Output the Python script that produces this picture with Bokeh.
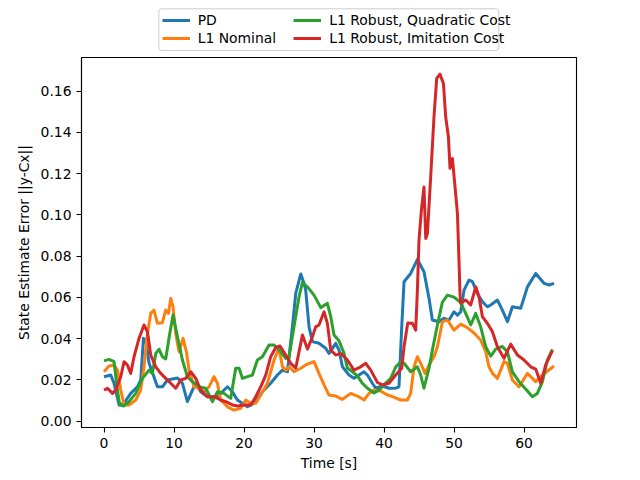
from bokeh.plotting import figure
from bokeh.layouts import column
from bokeh.models import Range1d, FixedTicker, PrintfTickFormatter, Legend, LegendItem, BoxAnnotation
from bokeh.embed import file_html
from bokeh.resources import INLINE

# ---- data ----
t_pd = [0.0, 0.96, 1.43, 2.14, 2.86, 3.81, 4.77, 5.24, 5.63, 5.96, 6.43, 7.63, 8.34, 9.06, 10.49, 11.2,
        11.91, 12.63, 13.1, 13.81, 14.77, 16.2, 17.63, 18.34, 19.06, 20.49, 21.43, 22.63, 23.81, 24.77,
        25.49, 26.2, 26.91, 27.39, 28.1, 28.57, 28.81, 29.29, 29.77, 30.71, 31.67, 32.14, 33.1, 33.57,
        34.06, 35.0, 35.71, 36.43, 37.14, 37.63, 38.34, 38.81, 39.77, 40.71, 41.67, 42.14, 42.53, 42.86,
        43.81, 44.77, 45.71, 46.43, 46.91, 47.86, 48.57, 49.29, 50.0, 50.49, 50.96, 51.43, 52.14, 52.63,
        53.34, 54.06, 54.77, 55.24, 56.2, 56.91, 57.63, 58.34, 59.53, 60.49, 61.67, 62.86, 63.57, 64.29]
v_pd = [0.0215, 0.0223, 0.0183, 0.0078, 0.0087, 0.0134, 0.0166, 0.0199, 0.0401, 0.0393, 0.0281, 0.0166,
        0.0166, 0.0199, 0.0209, 0.0183, 0.0094, 0.0150, 0.0183, 0.0142, 0.0118, 0.0118, 0.0166, 0.0142,
        0.0102, 0.0069, 0.0086, 0.0142, 0.0183, 0.0223, 0.0247, 0.0239, 0.0457, 0.0619, 0.0713, 0.0668,
        0.0635, 0.0457, 0.0385, 0.0377, 0.0353, 0.0328, 0.0377, 0.0344, 0.0263, 0.0223, 0.0207, 0.0223,
        0.0239, 0.0223, 0.0183, 0.0159, 0.0170, 0.0159, 0.0159, 0.0166, 0.0457, 0.0676, 0.0716, 0.0784,
        0.0724, 0.0595, 0.0490, 0.0482, 0.0498, 0.0490, 0.0530, 0.0514, 0.0530, 0.0635, 0.0684, 0.0676,
        0.0619, 0.0579, 0.0554, 0.0563, 0.0587, 0.0538, 0.0482, 0.0554, 0.0547, 0.0651, 0.0716, 0.0668,
        0.0660, 0.0668]

t_nom = [0.0, 0.71, 1.43, 1.91, 2.39, 2.86, 3.57, 4.53, 5.24, 5.71, 6.2, 6.67, 7.14, 7.63, 8.34, 8.81,
         9.2, 9.53, 9.86, 10.24, 10.71, 11.29, 11.77, 12.14, 12.86, 13.57, 14.29, 15.0, 15.71, 16.2,
         16.67, 17.63, 18.57, 19.53, 20.24, 20.96, 21.67, 22.39, 23.34, 24.29, 25.0, 25.49, 25.96, 26.43,
         27.14, 28.1, 28.81, 30.0, 30.71, 31.43, 32.14, 33.1, 34.06, 35.24, 36.2, 37.14, 37.86, 38.57,
         39.53, 40.49, 41.2, 42.39, 43.34, 43.81, 44.29, 44.77, 45.24, 45.86, 46.43, 47.14, 47.63, 48.34,
         49.06, 50.0, 50.96, 51.91, 52.86, 53.81, 54.53, 55.0, 55.49, 56.2, 57.14, 57.63, 58.34, 59.29,
         60.49, 61.67, 62.63, 64.29]
v_nom = [0.0239, 0.0267, 0.0272, 0.0247, 0.0150, 0.0078, 0.0078, 0.0102, 0.0150, 0.0263, 0.0425, 0.0522,
         0.0538, 0.0474, 0.0477, 0.0538, 0.0522, 0.0595, 0.0554, 0.0425, 0.0336, 0.0401, 0.0336, 0.0247,
         0.0166, 0.0159, 0.0142, 0.0166, 0.0215, 0.0183, 0.0102, 0.0069, 0.0053, 0.0062, 0.0102, 0.0086,
         0.0086, 0.0126, 0.0183, 0.0296, 0.0353, 0.0263, 0.0247, 0.0263, 0.0239, 0.0256, 0.0272, 0.0288,
         0.0231, 0.0175, 0.0126, 0.0121, 0.0105, 0.0134, 0.0121, 0.0102, 0.0134, 0.0150, 0.0145, 0.0126,
         0.0118, 0.0102, 0.0102, 0.0134, 0.0263, 0.0312, 0.0280, 0.0231, 0.0272, 0.0312, 0.0360, 0.0482,
         0.0490, 0.0441, 0.0470, 0.0453, 0.0427, 0.0393, 0.0336, 0.0263, 0.0231, 0.0207, 0.0288, 0.0280,
         0.0199, 0.0166, 0.0231, 0.0191, 0.0223, 0.0267]

t_quad = [0.0, 0.71, 1.43, 1.91, 2.24, 2.86, 3.57, 4.53, 5.49, 6.43, 6.91, 7.39, 7.86, 8.34, 8.81, 9.39,
          9.86, 10.49, 11.2, 11.91, 12.63, 13.57, 14.53, 15.49, 16.2, 17.14, 18.1, 18.81, 19.29, 19.77,
          20.49, 21.2, 21.91, 22.63, 23.57, 24.29, 25.24, 25.96, 26.43, 27.14, 27.86, 28.34, 29.06, 30.0,
          30.96, 31.91, 32.39, 32.86, 33.57, 34.29, 34.77, 35.49, 36.2, 36.91, 37.63, 38.57, 39.29, 40.0,
          40.96, 41.67, 42.39, 42.86, 43.81, 44.77, 45.24, 45.71, 46.43, 46.91, 47.63, 48.34, 49.06, 50.0,
          50.96, 51.67, 52.39, 53.1, 53.81, 54.53, 55.24, 55.96, 56.91, 57.63, 58.34, 59.29, 60.24, 61.2,
          61.91, 62.63, 63.34, 64.06]
v_quad = [0.0292, 0.0299, 0.0288, 0.0150, 0.0078, 0.0073, 0.0094, 0.0134, 0.0207, 0.0247, 0.0231, 0.0328,
          0.0348, 0.0312, 0.0301, 0.0425, 0.0514, 0.0409, 0.0296, 0.0215, 0.0191, 0.0166, 0.0159, 0.0094,
          0.0142, 0.0134, 0.0110, 0.0256, 0.0256, 0.0207, 0.0215, 0.0223, 0.0296, 0.0312, 0.0369, 0.0369,
          0.0336, 0.0304, 0.0312, 0.0457, 0.0603, 0.0672, 0.0651, 0.0611, 0.0550, 0.0571, 0.0506, 0.0417,
          0.0389, 0.0328, 0.0257, 0.0239, 0.0219, 0.0183, 0.0159, 0.0136, 0.0150, 0.0175, 0.0207, 0.0262,
          0.0288, 0.0280, 0.0239, 0.0263, 0.0223, 0.0159, 0.0256, 0.0344, 0.0466, 0.0577, 0.0611, 0.0601,
          0.0575, 0.0522, 0.0466, 0.0522, 0.0457, 0.0360, 0.0315, 0.0349, 0.0362, 0.0335, 0.0238, 0.0191,
          0.0155, 0.0118, 0.0134, 0.0191, 0.0296, 0.0348]

t_imit = [0.0, 0.49, 1.2, 1.67, 2.39, 2.86, 3.34, 3.81, 4.29, 5.0, 5.71, 6.2, 6.67, 7.39, 8.1, 8.81, 9.53,
          10.24, 10.96, 11.67, 12.39, 13.1, 13.81, 14.77, 15.71, 16.67, 17.39, 18.34, 19.06, 20.0, 20.96,
          21.67, 22.39, 23.1, 23.81, 24.53, 25.14, 25.96, 26.67, 27.39, 28.34, 29.06, 29.77, 30.24, 30.71,
          31.43, 31.91, 32.39, 33.1, 33.81, 34.77, 35.71, 36.67, 37.39, 38.1, 39.06, 39.77, 40.71, 41.67,
          42.53, 42.86, 43.39, 44.06, 44.53, 44.77, 45.0, 45.34, 45.71, 45.96, 46.2, 46.67, 47.14, 47.53,
          48.0, 48.49, 48.81, 49.2, 49.43, 49.77, 50.1, 50.49, 50.71, 50.86, 50.96, 51.67, 52.39, 53.1,
          53.57, 54.06, 54.77, 55.49, 56.2, 57.14, 58.1, 59.06, 60.0, 60.96, 61.67, 62.39, 63.1, 64.06]
v_imit = [0.0150, 0.0159, 0.0134, 0.0150, 0.0215, 0.0288, 0.0272, 0.0231, 0.0312, 0.0401, 0.0466, 0.0433,
          0.0320, 0.0263, 0.0231, 0.0207, 0.0183, 0.0159, 0.0199, 0.0207, 0.0239, 0.0207, 0.0150, 0.0118,
          0.0118, 0.0102, 0.0094, 0.0078, 0.0073, 0.0078, 0.0078, 0.0118, 0.0166, 0.0223, 0.0312, 0.0357,
          0.0364, 0.0320, 0.0280, 0.0257, 0.0417, 0.0349, 0.0409, 0.0457, 0.0466, 0.0530, 0.0474, 0.0344,
          0.0320, 0.0328, 0.0296, 0.0247, 0.0263, 0.0280, 0.0247, 0.0187, 0.0175, 0.0183, 0.0223, 0.0256,
          0.0360, 0.0475, 0.0474, 0.0441, 0.0635, 0.0878, 0.1023, 0.1136, 0.0886, 0.0910, 0.1185, 0.1476,
          0.1662, 0.1683, 0.1638, 0.1476, 0.1379, 0.1226, 0.1274, 0.1153, 0.1007, 0.0781, 0.0611, 0.0571,
          0.0587, 0.0563, 0.0651, 0.0603, 0.0506, 0.0474, 0.0433, 0.0360, 0.0304, 0.0373, 0.0320, 0.0296,
          0.0263, 0.0252, 0.0183, 0.0272, 0.0342]

series_labels = ["PD", "L1 Nominal", "L1 Robust, Quadratic Cost", "L1 Robust, Imitation Cost"]
series_colors = ["#1f77b4", "#ff7f0e", "#2ca02c", "#d62728"]
x_ticks = [0, 10, 20, 30, 40, 50, 60]
y_ticks = [0.0, 0.02, 0.04, 0.06, 0.08, 0.10, 0.12, 0.14, 0.16]

FONT = "DejaVu Sans"
FS = "13.9px"
LW = 3.0
B_LEFT, B_RIGHT = 81, 64

# ---------------- legend strip (above the axes) ----------------
LEG_H = 56
leg = figure(width=640, height=LEG_H, output_backend="svg", toolbar_location=None,
             x_range=Range1d(B_LEFT, 640 - B_RIGHT), y_range=Range1d(LEG_H, 0),
             x_axis_location=None, y_axis_location=None,
             min_border_left=B_LEFT, min_border_right=B_RIGHT, min_border_top=0, min_border_bottom=0)
leg.outline_line_color = None
leg.grid.visible = False
leg.background_fill_color = "white"
leg.border_fill_color = "white"

# legend frame box (decoration, in the strip's pixel space)
box = BoxAnnotation(left=158.3, right=498.3, top=8.3, bottom=50.0,
                    fill_color="white", fill_alpha=0.8,
                    line_color="#cccccc", line_width=1, line_alpha=1.0)
try:
    box.border_radius = 3
except Exception:
    pass
leg.add_layout(box)

nan = float("nan")
leg_renderers = [leg.line([nan], [nan], line_color=c, line_width=LW) for c in series_colors]

common = dict(label_text_font=FONT, label_text_font_size=FS, label_text_color="black",
              glyph_width=28, glyph_height=14, label_height=14, label_standoff=8,
              spacing=2, padding=0, margin=0,
              border_line_color=None, background_fill_alpha=0.0)
leg_left = Legend(items=[LegendItem(label=series_labels[i], renderers=[leg_renderers[i]]) for i in (0, 1)],
                  location=(161.7 - B_LEFT, 10), **common)
leg_right = Legend(items=[LegendItem(label=series_labels[i], renderers=[leg_renderers[i]]) for i in (2, 3)],
                   location=(293.3 - B_LEFT, 10), **common)
leg.add_layout(leg_left, "center")
leg.add_layout(leg_right, "center")

# ---------------- main axes ----------------
p = figure(width=640, height=480 - LEG_H, output_backend="svg", toolbar_location=None,
           x_range=Range1d(-3.22, 67.5), y_range=Range1d(-0.00315, 0.17638),
           min_border_left=B_LEFT, min_border_right=B_RIGHT, min_border_top=1, min_border_bottom=53)

p.background_fill_color = "white"
p.border_fill_color = "white"
p.outline_line_color = "black"
p.outline_line_width = 1.1
p.outline_line_alpha = 1.0
p.grid.visible = False

for xs, ys, col in zip([t_pd, t_nom, t_quad, t_imit], [v_pd, v_nom, v_quad, v_imit], series_colors):
    p.line(xs, ys, line_color=col, line_width=LW, line_join="round")

for ax in (p.xaxis[0], p.yaxis[0]):
    ax.axis_line_color = "black"
    ax.axis_line_width = 1.1
    ax.major_tick_line_color = "black"
    ax.major_tick_line_width = 1.1
    ax.major_tick_out = 5
    ax.major_tick_in = 0
    ax.minor_tick_out = 0
    ax.minor_tick_in = 0
    ax.major_label_text_font = FONT
    ax.major_label_text_font_size = FS
    ax.major_label_text_color = "black"
    ax.major_label_standoff = 5
    ax.axis_label_text_font = FONT
    ax.axis_label_text_font_size = FS
    ax.axis_label_text_font_style = "normal"
    ax.axis_label_text_color = "black"

p.xaxis.ticker = FixedTicker(ticks=x_ticks, minor_ticks=[])
p.yaxis.ticker = FixedTicker(ticks=y_ticks, minor_ticks=[])
p.yaxis.formatter = PrintfTickFormatter(format="%.2f")
p.xaxis.axis_label = "Time [s]"
p.yaxis.axis_label = "State Estimate Error ||y-Cx||"
p.xaxis.axis_label_standoff = 4
p.yaxis.axis_label_standoff = 6

layout = column(leg, p, spacing=0)
open("out.html", "w").write(file_html(layout, INLINE))
